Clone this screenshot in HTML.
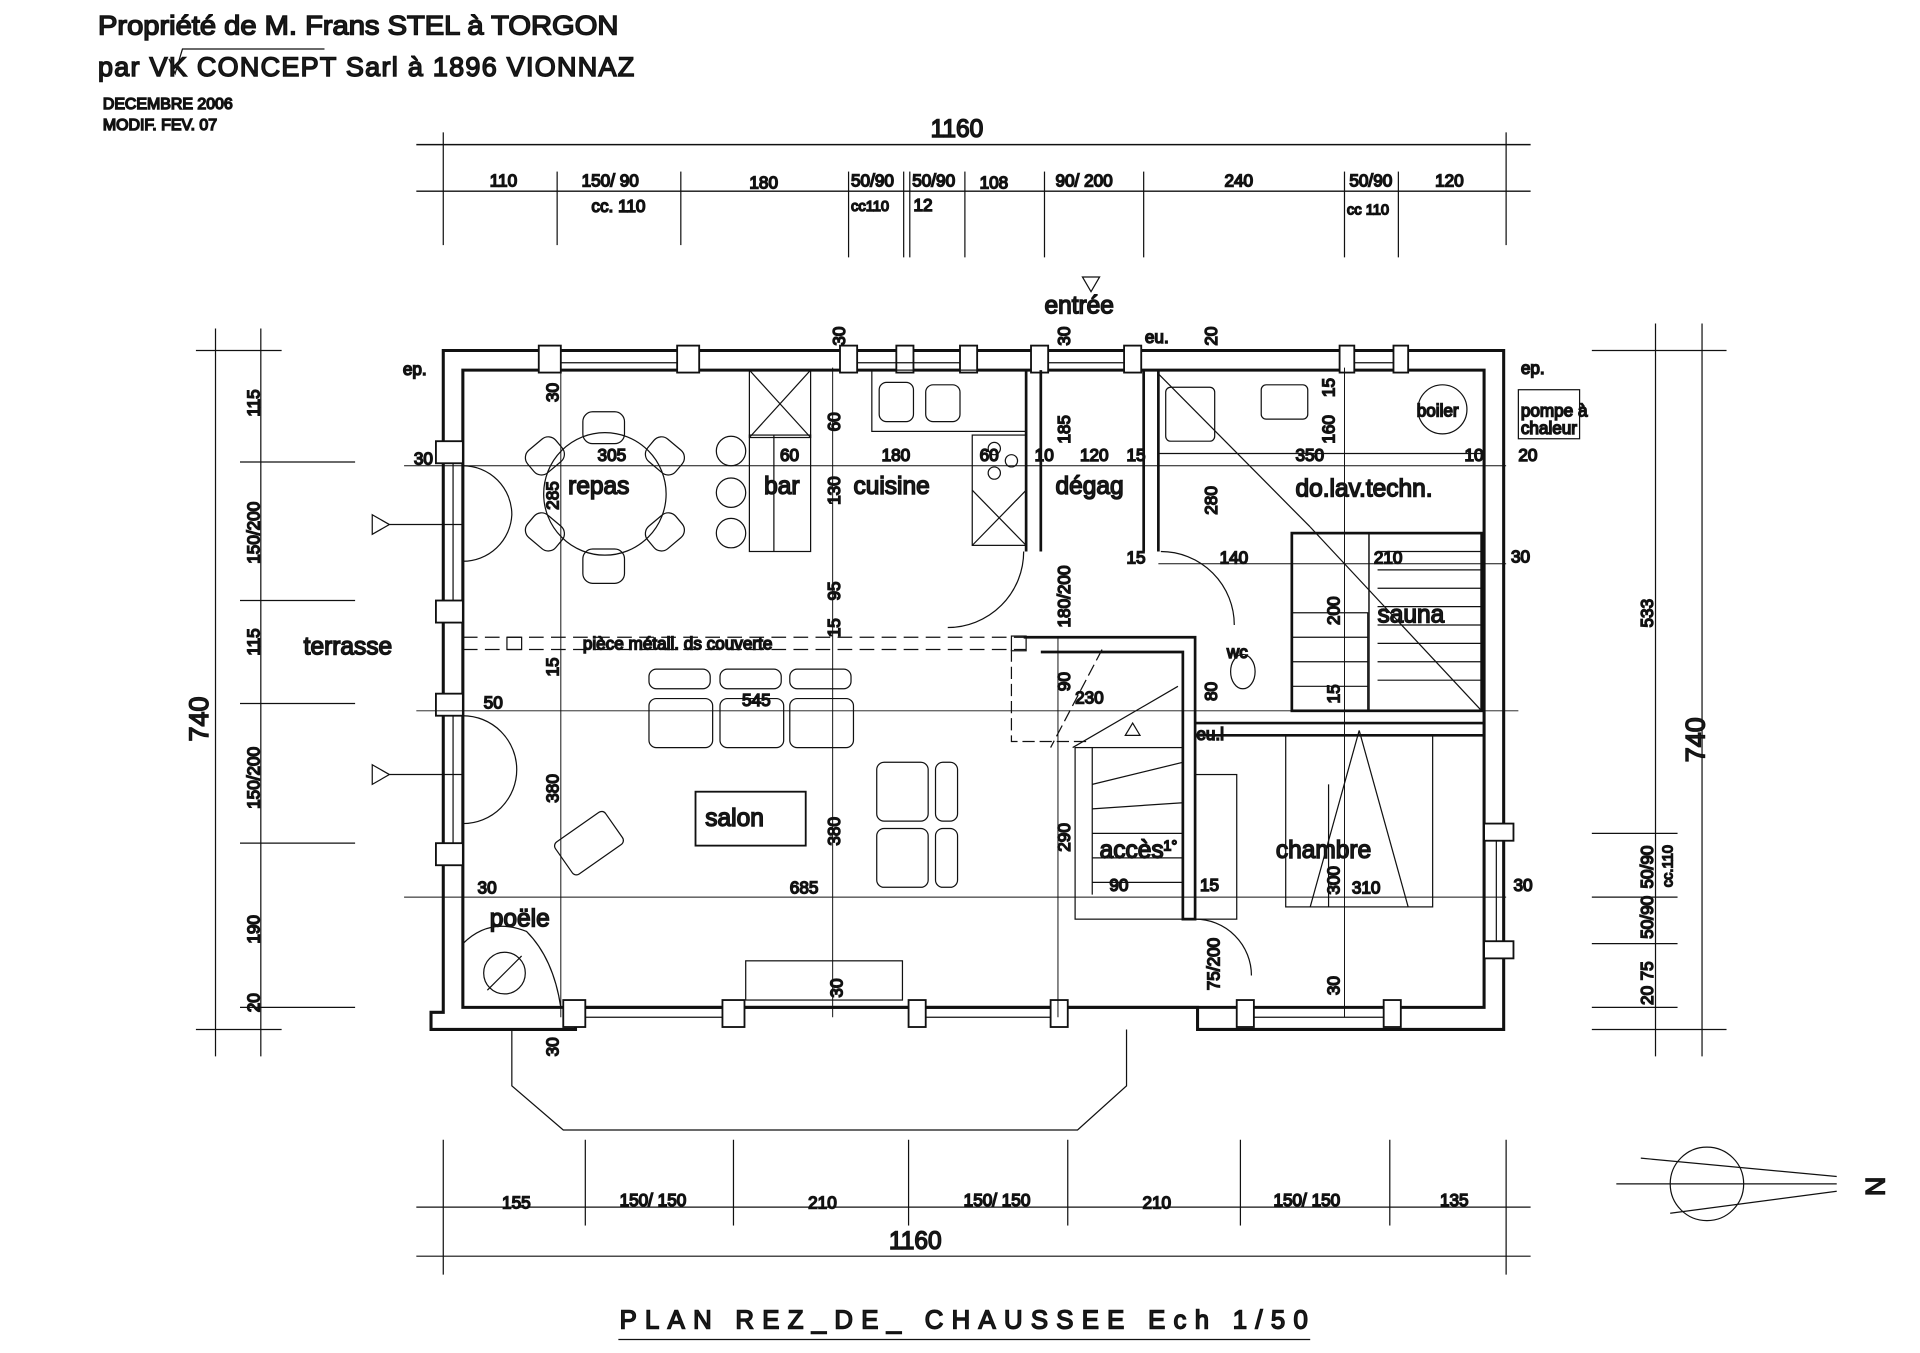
<!DOCTYPE html>
<html><head><meta charset="utf-8"><style>
html,body{margin:0;padding:0;background:#fff;}
svg{display:block}
text{font-family:"Liberation Sans",sans-serif;fill:#222}
</style></head><body>
<svg width="1920" height="1353" viewBox="0 0 1568 1104" preserveAspectRatio="none" xmlns="http://www.w3.org/2000/svg">
<rect width="1568" height="1104" fill="#fff"/>
<g stroke="#111" fill="none" stroke-width="1.2">
<line x1="340" y1="118" x2="1250" y2="118"/><line x1="340" y1="156" x2="1250" y2="156"/>
<g stroke-width="1">
<line x1="362" y1="108" x2="362" y2="200"/><line x1="455" y1="140" x2="455" y2="200"/><line x1="556" y1="140" x2="556" y2="200"/>
<line x1="693" y1="140" x2="693" y2="210"/><line x1="738" y1="140" x2="738" y2="210"/><line x1="743" y1="140" x2="743" y2="210"/><line x1="788" y1="140" x2="788" y2="210"/>
<line x1="853" y1="140" x2="853" y2="210"/><line x1="934" y1="140" x2="934" y2="210"/><line x1="1098" y1="140" x2="1098" y2="210"/><line x1="1142" y1="140" x2="1142" y2="210"/><line x1="1230" y1="108" x2="1230" y2="200"/>
<line x1="176" y1="268" x2="176" y2="862"/><line x1="213" y1="268" x2="213" y2="862"/>
<line x1="160" y1="286" x2="230" y2="286"/><line x1="196" y1="377" x2="290" y2="377"/><line x1="196" y1="490" x2="290" y2="490"/><line x1="196" y1="574" x2="290" y2="574"/><line x1="196" y1="688" x2="290" y2="688"/><line x1="196" y1="822" x2="290" y2="822"/><line x1="160" y1="840" x2="230" y2="840"/>
<line x1="1352" y1="264" x2="1352" y2="862"/><line x1="1390" y1="264" x2="1390" y2="862"/>
<line x1="1300" y1="286" x2="1410" y2="286"/><line x1="1300" y1="840" x2="1410" y2="840"/><line x1="1300" y1="680" x2="1370" y2="680"/><line x1="1300" y1="732" x2="1370" y2="732"/><line x1="1300" y1="770" x2="1370" y2="770"/><line x1="1300" y1="822" x2="1370" y2="822"/>
<line x1="340" y1="985" x2="1250" y2="985"/><line x1="340" y1="1025" x2="1250" y2="1025"/>
<line x1="362" y1="930" x2="362" y2="1040"/><line x1="478" y1="930" x2="478" y2="1000"/><line x1="599" y1="930" x2="599" y2="1000"/><line x1="742" y1="930" x2="742" y2="1000"/><line x1="872" y1="930" x2="872" y2="1000"/><line x1="1013" y1="930" x2="1013" y2="1000"/><line x1="1135" y1="930" x2="1135" y2="1000"/><line x1="1230" y1="930" x2="1230" y2="1040"/>
</g>
<g stroke-width="2.5">
<path d="M362 286 H1228 V840 H978 V822 H470 V840 H352 V826 H362 Z"/>
<path d="M378 302 H1212 V822 H378 Z"/>
</g>
<g fill="#fff" stroke-width="1.5">
<rect x="440" y="282" width="18" height="22"/><rect x="553" y="282" width="18" height="22"/>
<rect x="686" y="282" width="14" height="22"/><rect x="732" y="282" width="14" height="22"/><rect x="784" y="282" width="14" height="22"/>
<rect x="842" y="282" width="14" height="22"/><rect x="918" y="282" width="14" height="22"/>
<rect x="1094" y="282" width="12" height="22"/><rect x="1138" y="282" width="12" height="22"/>
<rect x="460" y="816" width="18" height="22"/><rect x="590" y="816" width="18" height="22"/><rect x="742" y="816" width="14" height="22"/><rect x="858" y="816" width="14" height="22"/><rect x="1010" y="816" width="14" height="22"/><rect x="1130" y="816" width="14" height="22"/>
<rect x="356" y="360" width="22" height="18"/><rect x="356" y="490" width="22" height="18"/><rect x="356" y="566" width="22" height="18"/><rect x="356" y="688" width="22" height="18"/>
<rect x="1212" y="672" width="24" height="14"/><rect x="1212" y="768" width="24" height="14"/>
</g>
<g stroke-width="1">
<line x1="458" y1="296" x2="553" y2="296"/><line x1="700" y1="296" x2="784" y2="296"/><line x1="856" y1="296" x2="918" y2="296"/><line x1="1106" y1="296" x2="1138" y2="296"/>
<line x1="478" y1="830" x2="590" y2="830"/><line x1="756" y1="830" x2="858" y2="830"/><line x1="1024" y1="830" x2="1130" y2="830"/>
<line x1="370" y1="378" x2="370" y2="490"/><line x1="370" y1="584" x2="370" y2="688"/><line x1="1222" y1="686" x2="1222" y2="768"/>
<line x1="378" y1="520" x2="838" y2="520" stroke-dasharray="12 6"/><line x1="378" y1="530" x2="838" y2="530" stroke-dasharray="12 6"/>
<rect x="414" y="520" width="12" height="10"/><rect x="826" y="519" width="12" height="12"/>
</g>
<g stroke-width="2.2">
<path d="M838 302 V450 M850 302 V450 M934 302 V450 M946 302 V450"/>
<path d="M836 520 H976 V750 H966 V532 H850"/>
<path d="M976 590 H1212 M976 600 H1212"/>
<rect x="1055" y="435" width="155" height="145"/>
<rect x="1118" y="435" width="92" height="145" stroke-width="1.2"/>
<path d="M946 370 H1212" stroke-width="1"/>
</g>
<g stroke-width="1">
<rect x="612" y="302" width="50" height="55"/><line x1="612" y1="302" x2="662" y2="357"/><line x1="662" y1="302" x2="612" y2="357"/>
<rect x="612" y="355" width="50" height="95"/><line x1="632" y1="355" x2="632" y2="450"/>
<rect x="712" y="302" width="126" height="50"/>
<rect x="718" y="312" width="28" height="32" rx="6"/><rect x="756" y="314" width="28" height="30" rx="6"/>
<rect x="794" y="355" width="44" height="90"/><line x1="794" y1="400" x2="838" y2="445"/><line x1="838" y1="400" x2="794" y2="445"/>
<circle cx="812" cy="366" r="5"/><circle cx="826" cy="376" r="5"/><circle cx="812" cy="386" r="5"/>
<circle cx="597" cy="368" r="12"/><circle cx="597" cy="402" r="12"/><circle cx="597" cy="435" r="12"/>
<circle cx="494" cy="403" r="50"/>
<rect x="476" y="336" width="34" height="26" rx="8"/><rect x="476" y="448" width="34" height="28" rx="8"/>
<rect x="430" y="360" width="30" height="24" rx="8" transform="rotate(-40 445 372)"/><rect x="528" y="360" width="30" height="24" rx="8" transform="rotate(40 543 372)"/>
<rect x="430" y="422" width="30" height="24" rx="8" transform="rotate(40 445 434)"/><rect x="528" y="422" width="30" height="24" rx="8" transform="rotate(-40 543 434)"/>
<path d="M378 380 A40 40 0 0 1 418 420 M378 458 A40 40 0 0 0 418 420"/>
<path d="M378 584 A44 44 0 0 1 422 628 M378 672 A44 44 0 0 0 422 628"/>
<path d="M836 450 A62 62 0 0 1 774 512" /><path d="M948 450 A60 60 0 0 1 1008 510"/>
<path d="M976 750 A46 46 0 0 1 1022 796"/><path d="M884 226 L898 226 L891 238 Z"/>
<rect x="530" y="546" width="50" height="16" rx="6"/><rect x="588" y="546" width="50" height="16" rx="6"/><rect x="645" y="546" width="50" height="16" rx="6"/>
<rect x="530" y="570" width="52" height="40" rx="6"/><rect x="588" y="570" width="52" height="40" rx="6"/><rect x="645" y="570" width="52" height="40" rx="6"/>
<rect x="716" y="622" width="42" height="48" rx="6"/><rect x="716" y="676" width="42" height="48" rx="6"/>
<rect x="764" y="622" width="18" height="48" rx="6"/><rect x="764" y="676" width="18" height="48" rx="6"/>
<rect x="568" y="646" width="90" height="44" stroke-width="1.5"/>
<rect x="456" y="672" width="50" height="32" rx="4" transform="rotate(-35 481 688)"/>
<rect x="609" y="784" width="128" height="32"/>
<path d="M378 822 V770 Q400 748 430 760 Q452 782 458 822"/>
<circle cx="412" cy="794" r="17"/><line x1="398" y1="808" x2="426" y2="780"/>
<rect x="878" y="610" width="88" height="140"/>
<line x1="892" y1="610" x2="892" y2="730"/>
<line x1="892" y1="640" x2="966" y2="622"/><line x1="892" y1="660" x2="966" y2="655"/><line x1="892" y1="680" x2="966" y2="680"/><line x1="892" y1="700" x2="966" y2="700"/><line x1="892" y1="720" x2="966" y2="720"/>
<line x1="876" y1="610" x2="962" y2="560"/><path d="M919 600 L925 590 L931 600 Z"/>
<path d="M826 530 V605 H890" stroke-dasharray="10 4"/><line x1="900" y1="530" x2="858" y2="610" stroke-dasharray="10 4"/>
<rect x="952" y="316" width="40" height="44" rx="4"/><line x1="946" y1="305" x2="1070" y2="430"/><line x1="1070" y1="430" x2="1210" y2="580"/>
<rect x="1030" y="314" width="38" height="28" rx="4"/><circle cx="1178" cy="334" r="20"/>
<rect x="1240" y="318" width="50" height="40"/>
<rect x="1055" y="500" width="62" height="80"/>
<line x1="1055" y1="520" x2="1117" y2="520"/><line x1="1055" y1="540" x2="1117" y2="540"/><line x1="1055" y1="560" x2="1117" y2="560"/>
<line x1="1125" y1="450" x2="1210" y2="450"/><line x1="1125" y1="465" x2="1210" y2="465"/><line x1="1125" y1="480" x2="1210" y2="480"/><line x1="1125" y1="495" x2="1210" y2="495"/><line x1="1125" y1="510" x2="1210" y2="510"/><line x1="1125" y1="525" x2="1210" y2="525"/><line x1="1125" y1="540" x2="1210" y2="540"/><line x1="1125" y1="555" x2="1210" y2="555"/>
<ellipse cx="1015" cy="548" rx="10" ry="14"/>
<rect x="1050" y="600" width="120" height="140"/><path d="M1110 596 L1070 740 M1110 596 L1150 740"/><line x1="1085" y1="640" x2="1085" y2="740"/>
<rect x="976" y="632" width="34" height="118"/>
<path d="M418 840 V886 L460 922 H880 L920 886 V840"/>
<path d="M304 420 L318 428 L304 436 Z M318 428 H378"/><path d="M304 624 L318 632 L304 640 Z M318 632 H378"/>
<line x1="330" y1="380" x2="1230" y2="380" stroke-width="0.8"/><line x1="330" y1="732" x2="1230" y2="732" stroke-width="0.8"/>
<line x1="458" y1="300" x2="458" y2="830" stroke-width="0.8"/><line x1="680" y1="300" x2="680" y2="830" stroke-width="0.8"/>
<line x1="864" y1="520" x2="864" y2="830" stroke-width="0.8"/><line x1="1098" y1="300" x2="1098" y2="830" stroke-width="0.8"/>
<line x1="340" y1="580" x2="1240" y2="580" stroke-width="0.8"/><line x1="946" y1="460" x2="1230" y2="460" stroke-width="0.8"/>
<circle cx="1394" cy="966" r="30"/><line x1="1320" y1="966" x2="1500" y2="966"/><line x1="1340" y1="945" x2="1500" y2="960"/><line x1="1364" y1="990" x2="1500" y2="972"/>
<line x1="505" y1="1093" x2="1070" y2="1093"/>
<path d="M138 48 L143 60 L149 40 H265"/>
</g>
<g font-size="22">
<text x="80" y="28" textLength="425" lengthAdjust="spacingAndGlyphs">Propriété de M. Frans STEL à TORGON</text>
<text x="80" y="62" textLength="438" lengthAdjust="spacing">par VK CONCEPT  Sarl  à  1896  VIONNAZ</text>
</g>
<g font-size="13"><text x="84" y="89">DECEMBRE 2006</text><text x="84" y="106">MODIF. FEV.  07</text></g>
<g font-size="20"><text x="760" y="112">1160</text><text x="726" y="1019">1160</text></g>
<g font-size="14">
<text x="400" y="152">110</text><text x="475" y="152">150/ 90</text><text x="483" y="173">cc. 110</text><text x="612" y="154">180</text>
<text x="695" y="152">50/90</text><text x="695" y="172" font-size="12">cc110</text><text x="745" y="152">50/90</text><text x="746" y="172">12</text><text x="800" y="154">108</text>
<text x="862" y="152">90/ 200</text><text x="1000" y="152">240</text><text x="1102" y="152">50/90</text><text x="1100" y="175" font-size="12">cc 110</text><text x="1172" y="152">120</text>
<text x="410" y="986">155</text><text x="506" y="984">150/ 150</text><text x="660" y="986">210</text><text x="787" y="984">150/ 150</text><text x="933" y="986">210</text><text x="1040" y="984">150/ 150</text><text x="1176" y="984">135</text>
<text x="338" y="379">30</text><text x="488" y="376">305</text><text x="637" y="376">60</text><text x="720" y="376">180</text><text x="800" y="376">60</text><text x="845" y="376">10</text><text x="882" y="376">120</text><text x="920" y="376">15</text><text x="1058" y="376">350</text><text x="1196" y="376">10</text><text x="1240" y="376">20</text>
<text x="996" y="460">140</text><text x="1122" y="460">210</text><text x="1234" y="459">30</text><text x="920" y="460">15</text>
<text x="395" y="578">50</text><text x="606" y="576">545</text><text x="878" y="574">230</text>
<text x="390" y="729">30</text><text x="645" y="729">685</text><text x="906" y="727">90</text><text x="980" y="727">15</text><text x="1104" y="729">310</text><text x="1236" y="727">30</text>
<text x="329" y="306">ep.</text><text x="1242" y="305">ep.</text><text x="935" y="280">eu.</text><text x="977" y="604">eu.l</text>
<text x="1242" y="340">pompe à</text><text x="1242" y="354">chaleur</text><text x="1157" y="340">boiler</text>
<text x="476" y="530">pièce métall. ds couverte</text>
</g>
<g font-size="20">
<text x="464" y="403">repas</text><text x="624" y="403">bar</text><text x="697" y="403">cuisine</text><text x="862" y="403">dégag</text><text x="1058" y="405">do.lav.techn.</text>
<text x="853" y="256">entrée</text><text x="248" y="534">terrasse</text><text x="1125" y="508">sauna</text><text x="1002" y="537" font-size="14">wc</text>
<text x="576" y="674">salon</text><text x="898" y="700">accès</text><text x="950" y="694" font-size="12">1°</text><text x="1042" y="700">chambre</text><text x="400" y="756">poële</text>
</g>
<g font-size="22"><text transform="translate(170 605) rotate(-90)">740</text><text transform="translate(1392 622) rotate(-90)">740</text></g>
<g font-size="14">
<text transform="translate(212 340) rotate(-90)">115</text><text transform="translate(212 460) rotate(-90)">150/200</text><text transform="translate(212 535) rotate(-90)">115</text><text transform="translate(212 660) rotate(-90)">150/200</text><text transform="translate(212 770) rotate(-90)">190</text><text transform="translate(212 826) rotate(-90)">20</text>
<text transform="translate(1350 512) rotate(-90)">533</text><text transform="translate(1350 725) rotate(-90)">50/90</text><text transform="translate(1366 724) rotate(-90)" font-size="12">cc.110</text><text transform="translate(1350 766) rotate(-90)">50/90</text><text transform="translate(1350 800) rotate(-90)">75</text><text transform="translate(1350 820) rotate(-90)">20</text>
<text transform="translate(456 328) rotate(-90)">30</text><text transform="translate(456 416) rotate(-90)">285</text><text transform="translate(456 552) rotate(-90)">15</text><text transform="translate(456 655) rotate(-90)">380</text>
<text transform="translate(690 282) rotate(-90)">30</text><text transform="translate(686 352) rotate(-90)">60</text><text transform="translate(686 412) rotate(-90)">130</text><text transform="translate(686 490) rotate(-90)">95</text><text transform="translate(686 520) rotate(-90)">15</text><text transform="translate(686 690) rotate(-90)">380</text><text transform="translate(688 814) rotate(-90)">30</text>
<text transform="translate(874 282) rotate(-90)">30</text><text transform="translate(874 362) rotate(-90)">185</text><text transform="translate(874 512) rotate(-90)">180/200</text><text transform="translate(874 564) rotate(-90)">90</text><text transform="translate(874 695) rotate(-90)">290</text><text transform="translate(994 282) rotate(-90)">20</text><text transform="translate(994 420) rotate(-90)">280</text>
<text transform="translate(1090 324) rotate(-90)">15</text><text transform="translate(1090 362) rotate(-90)">160</text><text transform="translate(1094 510) rotate(-90)">200</text><text transform="translate(1094 574) rotate(-90)">15</text><text transform="translate(1094 730) rotate(-90)">300</text><text transform="translate(1094 812) rotate(-90)">30</text>
<text transform="translate(996 808) rotate(-90)">75/200</text><text transform="translate(456 862) rotate(-90)">30</text><text transform="translate(994 572) rotate(-90)">80</text>
</g>
<text x="1520" y="975" font-size="22" transform="rotate(-90 1530 966)">N</text>
<text x="506" y="1084" font-size="21" textLength="562" lengthAdjust="spacing">PLAN  REZ_DE_ CHAUSSEE    Ech   1/50</text>
</svg>
</body></html>
